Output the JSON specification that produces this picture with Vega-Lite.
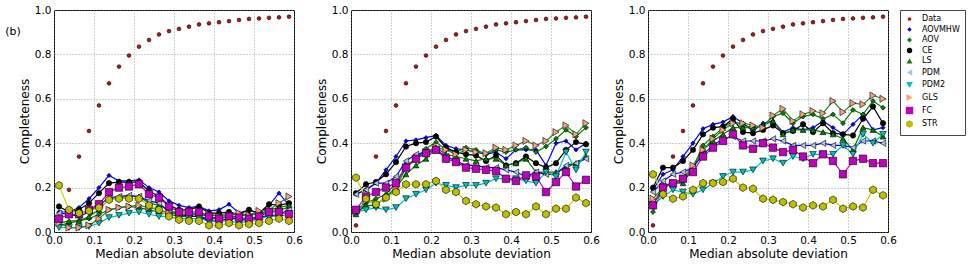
{
"$schema": "https://vega.github.io/schema/vega-lite/v6.json",
"padding": {"left": 4, "top": 4, "right": 0, "bottom": 0},
"background": "white",
"data": {"values": [
{"s":"Data","x":0.0125,"y":0.03},{"s":"Data","x":0.0375,"y":0.19},{"s":"Data","x":0.0625,"y":0.34},{"s":"Data","x":0.0875,"y":0.455},{"s":"Data","x":0.1125,"y":0.57},{"s":"Data","x":0.1375,"y":0.67},{"s":"Data","x":0.1625,"y":0.745},{"s":"Data","x":0.1875,"y":0.795},{"s":"Data","x":0.2125,"y":0.835},{"s":"Data","x":0.2375,"y":0.865},{"s":"Data","x":0.2625,"y":0.89},{"s":"Data","x":0.2875,"y":0.905},{"s":"Data","x":0.3125,"y":0.915},{"s":"Data","x":0.3375,"y":0.925},{"s":"Data","x":0.3625,"y":0.935},{"s":"Data","x":0.3875,"y":0.94},{"s":"Data","x":0.4125,"y":0.945},{"s":"Data","x":0.4375,"y":0.95},{"s":"Data","x":0.4625,"y":0.955},{"s":"Data","x":0.4875,"y":0.96},{"s":"Data","x":0.5125,"y":0.962},{"s":"Data","x":0.5375,"y":0.965},{"s":"Data","x":0.5625,"y":0.967},{"s":"Data","x":0.5875,"y":0.97},

{"p":1,"s":"AOVMHW","x":0.0125,"y":0.09},{"p":1,"s":"AOVMHW","x":0.0375,"y":0.09},{"p":1,"s":"AOVMHW","x":0.0625,"y":0.11},{"p":1,"s":"AOVMHW","x":0.0875,"y":0.15},{"p":1,"s":"AOVMHW","x":0.1125,"y":0.2},{"p":1,"s":"AOVMHW","x":0.1375,"y":0.255},{"p":1,"s":"AOVMHW","x":0.1625,"y":0.23},{"p":1,"s":"AOVMHW","x":0.1875,"y":0.23},{"p":1,"s":"AOVMHW","x":0.2125,"y":0.235},{"p":1,"s":"AOVMHW","x":0.2375,"y":0.2},{"p":1,"s":"AOVMHW","x":0.2625,"y":0.18},{"p":1,"s":"AOVMHW","x":0.2875,"y":0.14},{"p":1,"s":"AOVMHW","x":0.3125,"y":0.12},{"p":1,"s":"AOVMHW","x":0.3375,"y":0.11},{"p":1,"s":"AOVMHW","x":0.3625,"y":0.115},{"p":1,"s":"AOVMHW","x":0.3875,"y":0.095},{"p":1,"s":"AOVMHW","x":0.4125,"y":0.1},{"p":1,"s":"AOVMHW","x":0.4375,"y":0.125},{"p":1,"s":"AOVMHW","x":0.4625,"y":0.085},{"p":1,"s":"AOVMHW","x":0.4875,"y":0.1},{"p":1,"s":"AOVMHW","x":0.5125,"y":0.08},{"p":1,"s":"AOVMHW","x":0.5375,"y":0.12},{"p":1,"s":"AOVMHW","x":0.5625,"y":0.175},{"p":1,"s":"AOVMHW","x":0.5875,"y":0.12},
{"p":1,"s":"AOV","x":0.0125,"y":0.03},{"p":1,"s":"AOV","x":0.0375,"y":0.04},{"p":1,"s":"AOV","x":0.0625,"y":0.05},{"p":1,"s":"AOV","x":0.0875,"y":0.06},{"p":1,"s":"AOV","x":0.1125,"y":0.08},{"p":1,"s":"AOV","x":0.1375,"y":0.1},{"p":1,"s":"AOV","x":0.1625,"y":0.11},{"p":1,"s":"AOV","x":0.1875,"y":0.115},{"p":1,"s":"AOV","x":0.2125,"y":0.11},{"p":1,"s":"AOV","x":0.2375,"y":0.1},{"p":1,"s":"AOV","x":0.2625,"y":0.09},{"p":1,"s":"AOV","x":0.2875,"y":0.08},{"p":1,"s":"AOV","x":0.3125,"y":0.07},{"p":1,"s":"AOV","x":0.3375,"y":0.07},{"p":1,"s":"AOV","x":0.3625,"y":0.07},{"p":1,"s":"AOV","x":0.3875,"y":0.06},{"p":1,"s":"AOV","x":0.4125,"y":0.06},{"p":1,"s":"AOV","x":0.4375,"y":0.07},{"p":1,"s":"AOV","x":0.4625,"y":0.07},{"p":1,"s":"AOV","x":0.4875,"y":0.08},{"p":1,"s":"AOV","x":0.5125,"y":0.08},{"p":1,"s":"AOV","x":0.5375,"y":0.09},{"p":1,"s":"AOV","x":0.5625,"y":0.1},{"p":1,"s":"AOV","x":0.5875,"y":0.11},
{"p":1,"s":"CE","x":0.0125,"y":0.115},{"p":1,"s":"CE","x":0.0375,"y":0.09},{"p":1,"s":"CE","x":0.0625,"y":0.1},{"p":1,"s":"CE","x":0.0875,"y":0.13},{"p":1,"s":"CE","x":0.1125,"y":0.175},{"p":1,"s":"CE","x":0.1375,"y":0.22},{"p":1,"s":"CE","x":0.1625,"y":0.225},{"p":1,"s":"CE","x":0.1875,"y":0.225},{"p":1,"s":"CE","x":0.2125,"y":0.225},{"p":1,"s":"CE","x":0.2375,"y":0.185},{"p":1,"s":"CE","x":0.2625,"y":0.16},{"p":1,"s":"CE","x":0.2875,"y":0.12},{"p":1,"s":"CE","x":0.3125,"y":0.1},{"p":1,"s":"CE","x":0.3375,"y":0.1},{"p":1,"s":"CE","x":0.3625,"y":0.115},{"p":1,"s":"CE","x":0.3875,"y":0.085},{"p":1,"s":"CE","x":0.4125,"y":0.085},{"p":1,"s":"CE","x":0.4375,"y":0.09},{"p":1,"s":"CE","x":0.4625,"y":0.08},{"p":1,"s":"CE","x":0.4875,"y":0.1},{"p":1,"s":"CE","x":0.5125,"y":0.085},{"p":1,"s":"CE","x":0.5375,"y":0.125},{"p":1,"s":"CE","x":0.5625,"y":0.12},{"p":1,"s":"CE","x":0.5875,"y":0.13},
{"p":1,"s":"LS","x":0.0125,"y":0.04},{"p":1,"s":"LS","x":0.0375,"y":0.05},{"p":1,"s":"LS","x":0.0625,"y":0.05},{"p":1,"s":"LS","x":0.0875,"y":0.07},{"p":1,"s":"LS","x":0.1125,"y":0.1},{"p":1,"s":"LS","x":0.1375,"y":0.15},{"p":1,"s":"LS","x":0.1625,"y":0.155},{"p":1,"s":"LS","x":0.1875,"y":0.16},{"p":1,"s":"LS","x":0.2125,"y":0.16},{"p":1,"s":"LS","x":0.2375,"y":0.13},{"p":1,"s":"LS","x":0.2625,"y":0.12},{"p":1,"s":"LS","x":0.2875,"y":0.1},{"p":1,"s":"LS","x":0.3125,"y":0.08},{"p":1,"s":"LS","x":0.3375,"y":0.08},{"p":1,"s":"LS","x":0.3625,"y":0.08},{"p":1,"s":"LS","x":0.3875,"y":0.07},{"p":1,"s":"LS","x":0.4125,"y":0.08},{"p":1,"s":"LS","x":0.4375,"y":0.08},{"p":1,"s":"LS","x":0.4625,"y":0.08},{"p":1,"s":"LS","x":0.4875,"y":0.08},{"p":1,"s":"LS","x":0.5125,"y":0.08},{"p":1,"s":"LS","x":0.5375,"y":0.1},{"p":1,"s":"LS","x":0.5625,"y":0.11},{"p":1,"s":"LS","x":0.5875,"y":0.12},
{"p":1,"s":"PDM","x":0.0125,"y":0.085},{"p":1,"s":"PDM","x":0.0375,"y":0.08},{"p":1,"s":"PDM","x":0.0625,"y":0.07},{"p":1,"s":"PDM","x":0.0875,"y":0.09},{"p":1,"s":"PDM","x":0.1125,"y":0.12},{"p":1,"s":"PDM","x":0.1375,"y":0.155},{"p":1,"s":"PDM","x":0.1625,"y":0.16},{"p":1,"s":"PDM","x":0.1875,"y":0.165},{"p":1,"s":"PDM","x":0.2125,"y":0.16},{"p":1,"s":"PDM","x":0.2375,"y":0.14},{"p":1,"s":"PDM","x":0.2625,"y":0.13},{"p":1,"s":"PDM","x":0.2875,"y":0.09},{"p":1,"s":"PDM","x":0.3125,"y":0.08},{"p":1,"s":"PDM","x":0.3375,"y":0.07},{"p":1,"s":"PDM","x":0.3625,"y":0.07},{"p":1,"s":"PDM","x":0.3875,"y":0.05},{"p":1,"s":"PDM","x":0.4125,"y":0.05},{"p":1,"s":"PDM","x":0.4375,"y":0.06},{"p":1,"s":"PDM","x":0.4625,"y":0.06},{"p":1,"s":"PDM","x":0.4875,"y":0.05},{"p":1,"s":"PDM","x":0.5125,"y":0.07},{"p":1,"s":"PDM","x":0.5375,"y":0.07},{"p":1,"s":"PDM","x":0.5625,"y":0.08},{"p":1,"s":"PDM","x":0.5875,"y":0.1},
{"p":1,"s":"PDM2","x":0.0125,"y":0.02},{"p":1,"s":"PDM2","x":0.0375,"y":0.02},{"p":1,"s":"PDM2","x":0.0625,"y":0.02},{"p":1,"s":"PDM2","x":0.0875,"y":0.025},{"p":1,"s":"PDM2","x":0.1125,"y":0.04},{"p":1,"s":"PDM2","x":0.1375,"y":0.065},{"p":1,"s":"PDM2","x":0.1625,"y":0.075},{"p":1,"s":"PDM2","x":0.1875,"y":0.085},{"p":1,"s":"PDM2","x":0.2125,"y":0.09},{"p":1,"s":"PDM2","x":0.2375,"y":0.08},{"p":1,"s":"PDM2","x":0.2625,"y":0.07},{"p":1,"s":"PDM2","x":0.2875,"y":0.07},{"p":1,"s":"PDM2","x":0.3125,"y":0.06},{"p":1,"s":"PDM2","x":0.3375,"y":0.06},{"p":1,"s":"PDM2","x":0.3625,"y":0.06},{"p":1,"s":"PDM2","x":0.3875,"y":0.05},{"p":1,"s":"PDM2","x":0.4125,"y":0.05},{"p":1,"s":"PDM2","x":0.4375,"y":0.05},{"p":1,"s":"PDM2","x":0.4625,"y":0.04},{"p":1,"s":"PDM2","x":0.4875,"y":0.05},{"p":1,"s":"PDM2","x":0.5125,"y":0.06},{"p":1,"s":"PDM2","x":0.5375,"y":0.07},{"p":1,"s":"PDM2","x":0.5625,"y":0.07},{"p":1,"s":"PDM2","x":0.5875,"y":0.08},
{"p":1,"s":"GLS","x":0.0125,"y":0.04},{"p":1,"s":"GLS","x":0.0375,"y":0.02},{"p":1,"s":"GLS","x":0.0625,"y":0.02},{"p":1,"s":"GLS","x":0.0875,"y":0.03},{"p":1,"s":"GLS","x":0.1125,"y":0.06},{"p":1,"s":"GLS","x":0.1375,"y":0.1},{"p":1,"s":"GLS","x":0.1625,"y":0.11},{"p":1,"s":"GLS","x":0.1875,"y":0.115},{"p":1,"s":"GLS","x":0.2125,"y":0.12},{"p":1,"s":"GLS","x":0.2375,"y":0.11},{"p":1,"s":"GLS","x":0.2625,"y":0.1},{"p":1,"s":"GLS","x":0.2875,"y":0.085},{"p":1,"s":"GLS","x":0.3125,"y":0.08},{"p":1,"s":"GLS","x":0.3375,"y":0.08},{"p":1,"s":"GLS","x":0.3625,"y":0.085},{"p":1,"s":"GLS","x":0.3875,"y":0.08},{"p":1,"s":"GLS","x":0.4125,"y":0.07},{"p":1,"s":"GLS","x":0.4375,"y":0.075},{"p":1,"s":"GLS","x":0.4625,"y":0.085},{"p":1,"s":"GLS","x":0.4875,"y":0.075},{"p":1,"s":"GLS","x":0.5125,"y":0.095},{"p":1,"s":"GLS","x":0.5375,"y":0.1},{"p":1,"s":"GLS","x":0.5625,"y":0.13},{"p":1,"s":"GLS","x":0.5875,"y":0.16},
{"p":1,"s":"FC","x":0.0125,"y":0.06},{"p":1,"s":"FC","x":0.0375,"y":0.08},{"p":1,"s":"FC","x":0.0625,"y":0.08},{"p":1,"s":"FC","x":0.0875,"y":0.1},{"p":1,"s":"FC","x":0.1125,"y":0.125},{"p":1,"s":"FC","x":0.1375,"y":0.18},{"p":1,"s":"FC","x":0.1625,"y":0.2},{"p":1,"s":"FC","x":0.1875,"y":0.205},{"p":1,"s":"FC","x":0.2125,"y":0.215},{"p":1,"s":"FC","x":0.2375,"y":0.17},{"p":1,"s":"FC","x":0.2625,"y":0.155},{"p":1,"s":"FC","x":0.2875,"y":0.115},{"p":1,"s":"FC","x":0.3125,"y":0.09},{"p":1,"s":"FC","x":0.3375,"y":0.09},{"p":1,"s":"FC","x":0.3625,"y":0.09},{"p":1,"s":"FC","x":0.3875,"y":0.07},{"p":1,"s":"FC","x":0.4125,"y":0.06},{"p":1,"s":"FC","x":0.4375,"y":0.07},{"p":1,"s":"FC","x":0.4625,"y":0.065},{"p":1,"s":"FC","x":0.4875,"y":0.06},{"p":1,"s":"FC","x":0.5125,"y":0.07},{"p":1,"s":"FC","x":0.5375,"y":0.09},{"p":1,"s":"FC","x":0.5625,"y":0.09},{"p":1,"s":"FC","x":0.5875,"y":0.08},
{"p":1,"s":"STR","x":0.0125,"y":0.21},{"p":1,"s":"STR","x":0.0375,"y":0.1},{"p":1,"s":"STR","x":0.0625,"y":0.085},{"p":1,"s":"STR","x":0.0875,"y":0.095},{"p":1,"s":"STR","x":0.1125,"y":0.11},{"p":1,"s":"STR","x":0.1375,"y":0.145},{"p":1,"s":"STR","x":0.1625,"y":0.15},{"p":1,"s":"STR","x":0.1875,"y":0.15},{"p":1,"s":"STR","x":0.2125,"y":0.15},{"p":1,"s":"STR","x":0.2375,"y":0.12},{"p":1,"s":"STR","x":0.2625,"y":0.1},{"p":1,"s":"STR","x":0.2875,"y":0.07},{"p":1,"s":"STR","x":0.3125,"y":0.055},{"p":1,"s":"STR","x":0.3375,"y":0.05},{"p":1,"s":"STR","x":0.3625,"y":0.05},{"p":1,"s":"STR","x":0.3875,"y":0.03},{"p":1,"s":"STR","x":0.4125,"y":0.03},{"p":1,"s":"STR","x":0.4375,"y":0.04},{"p":1,"s":"STR","x":0.4625,"y":0.03},{"p":1,"s":"STR","x":0.4875,"y":0.035},{"p":1,"s":"STR","x":0.5125,"y":0.04},{"p":1,"s":"STR","x":0.5375,"y":0.05},{"p":1,"s":"STR","x":0.5625,"y":0.06},{"p":1,"s":"STR","x":0.5875,"y":0.05},

{"p":2,"s":"AOVMHW","x":0.0125,"y":0.17},{"p":2,"s":"AOVMHW","x":0.0375,"y":0.19},{"p":2,"s":"AOVMHW","x":0.0625,"y":0.22},{"p":2,"s":"AOVMHW","x":0.0875,"y":0.28},{"p":2,"s":"AOVMHW","x":0.1125,"y":0.34},{"p":2,"s":"AOVMHW","x":0.1375,"y":0.41},{"p":2,"s":"AOVMHW","x":0.1625,"y":0.415},{"p":2,"s":"AOVMHW","x":0.1875,"y":0.425},{"p":2,"s":"AOVMHW","x":0.2125,"y":0.435},{"p":2,"s":"AOVMHW","x":0.2375,"y":0.39},{"p":2,"s":"AOVMHW","x":0.2625,"y":0.375},{"p":2,"s":"AOVMHW","x":0.2875,"y":0.37},{"p":2,"s":"AOVMHW","x":0.3125,"y":0.36},{"p":2,"s":"AOVMHW","x":0.3375,"y":0.35},{"p":2,"s":"AOVMHW","x":0.3625,"y":0.36},{"p":2,"s":"AOVMHW","x":0.3875,"y":0.33},{"p":2,"s":"AOVMHW","x":0.4125,"y":0.37},{"p":2,"s":"AOVMHW","x":0.4375,"y":0.37},{"p":2,"s":"AOVMHW","x":0.4625,"y":0.37},{"p":2,"s":"AOVMHW","x":0.4875,"y":0.3},{"p":2,"s":"AOVMHW","x":0.5125,"y":0.4},{"p":2,"s":"AOVMHW","x":0.5375,"y":0.41},{"p":2,"s":"AOVMHW","x":0.5625,"y":0.37},{"p":2,"s":"AOVMHW","x":0.5875,"y":0.4},
{"p":2,"s":"AOV","x":0.0125,"y":0.08},{"p":2,"s":"AOV","x":0.0375,"y":0.13},{"p":2,"s":"AOV","x":0.0625,"y":0.15},{"p":2,"s":"AOV","x":0.0875,"y":0.17},{"p":2,"s":"AOV","x":0.1125,"y":0.22},{"p":2,"s":"AOV","x":0.1375,"y":0.3},{"p":2,"s":"AOV","x":0.1625,"y":0.33},{"p":2,"s":"AOV","x":0.1875,"y":0.375},{"p":2,"s":"AOV","x":0.2125,"y":0.405},{"p":2,"s":"AOV","x":0.2375,"y":0.37},{"p":2,"s":"AOV","x":0.2625,"y":0.36},{"p":2,"s":"AOV","x":0.2875,"y":0.38},{"p":2,"s":"AOV","x":0.3125,"y":0.37},{"p":2,"s":"AOV","x":0.3375,"y":0.35},{"p":2,"s":"AOV","x":0.3625,"y":0.37},{"p":2,"s":"AOV","x":0.3875,"y":0.36},{"p":2,"s":"AOV","x":0.4125,"y":0.37},{"p":2,"s":"AOV","x":0.4375,"y":0.38},{"p":2,"s":"AOV","x":0.4625,"y":0.36},{"p":2,"s":"AOV","x":0.4875,"y":0.385},{"p":2,"s":"AOV","x":0.5125,"y":0.42},{"p":2,"s":"AOV","x":0.5375,"y":0.46},{"p":2,"s":"AOV","x":0.5625,"y":0.43},{"p":2,"s":"AOV","x":0.5875,"y":0.47},
{"p":2,"s":"CE","x":0.0125,"y":0.175},{"p":2,"s":"CE","x":0.0375,"y":0.215},{"p":2,"s":"CE","x":0.0625,"y":0.225},{"p":2,"s":"CE","x":0.0875,"y":0.26},{"p":2,"s":"CE","x":0.1125,"y":0.315},{"p":2,"s":"CE","x":0.1375,"y":0.385},{"p":2,"s":"CE","x":0.1625,"y":0.4},{"p":2,"s":"CE","x":0.1875,"y":0.405},{"p":2,"s":"CE","x":0.2125,"y":0.43},{"p":2,"s":"CE","x":0.2375,"y":0.38},{"p":2,"s":"CE","x":0.2625,"y":0.36},{"p":2,"s":"CE","x":0.2875,"y":0.35},{"p":2,"s":"CE","x":0.3125,"y":0.345},{"p":2,"s":"CE","x":0.3375,"y":0.32},{"p":2,"s":"CE","x":0.3625,"y":0.345},{"p":2,"s":"CE","x":0.3875,"y":0.3},{"p":2,"s":"CE","x":0.4125,"y":0.31},{"p":2,"s":"CE","x":0.4375,"y":0.34},{"p":2,"s":"CE","x":0.4625,"y":0.31},{"p":2,"s":"CE","x":0.4875,"y":0.29},{"p":2,"s":"CE","x":0.5125,"y":0.31},{"p":2,"s":"CE","x":0.5375,"y":0.37},{"p":2,"s":"CE","x":0.5625,"y":0.405},{"p":2,"s":"CE","x":0.5875,"y":0.395},
{"p":2,"s":"LS","x":0.0125,"y":0.08},{"p":2,"s":"LS","x":0.0375,"y":0.12},{"p":2,"s":"LS","x":0.0625,"y":0.12},{"p":2,"s":"LS","x":0.0875,"y":0.16},{"p":2,"s":"LS","x":0.1125,"y":0.2},{"p":2,"s":"LS","x":0.1375,"y":0.26},{"p":2,"s":"LS","x":0.1625,"y":0.3},{"p":2,"s":"LS","x":0.1875,"y":0.33},{"p":2,"s":"LS","x":0.2125,"y":0.38},{"p":2,"s":"LS","x":0.2375,"y":0.35},{"p":2,"s":"LS","x":0.2625,"y":0.34},{"p":2,"s":"LS","x":0.2875,"y":0.33},{"p":2,"s":"LS","x":0.3125,"y":0.32},{"p":2,"s":"LS","x":0.3375,"y":0.33},{"p":2,"s":"LS","x":0.3625,"y":0.33},{"p":2,"s":"LS","x":0.3875,"y":0.3},{"p":2,"s":"LS","x":0.4125,"y":0.31},{"p":2,"s":"LS","x":0.4375,"y":0.33},{"p":2,"s":"LS","x":0.4625,"y":0.27},{"p":2,"s":"LS","x":0.4875,"y":0.27},{"p":2,"s":"LS","x":0.5125,"y":0.27},{"p":2,"s":"LS","x":0.5375,"y":0.29},{"p":2,"s":"LS","x":0.5625,"y":0.31},{"p":2,"s":"LS","x":0.5875,"y":0.34},
{"p":2,"s":"PDM","x":0.0125,"y":0.17},{"p":2,"s":"PDM","x":0.0375,"y":0.19},{"p":2,"s":"PDM","x":0.0625,"y":0.22},{"p":2,"s":"PDM","x":0.0875,"y":0.22},{"p":2,"s":"PDM","x":0.1125,"y":0.25},{"p":2,"s":"PDM","x":0.1375,"y":0.32},{"p":2,"s":"PDM","x":0.1625,"y":0.35},{"p":2,"s":"PDM","x":0.1875,"y":0.36},{"p":2,"s":"PDM","x":0.2125,"y":0.37},{"p":2,"s":"PDM","x":0.2375,"y":0.34},{"p":2,"s":"PDM","x":0.2625,"y":0.32},{"p":2,"s":"PDM","x":0.2875,"y":0.3},{"p":2,"s":"PDM","x":0.3125,"y":0.3},{"p":2,"s":"PDM","x":0.3375,"y":0.29},{"p":2,"s":"PDM","x":0.3625,"y":0.29},{"p":2,"s":"PDM","x":0.3875,"y":0.28},{"p":2,"s":"PDM","x":0.4125,"y":0.27},{"p":2,"s":"PDM","x":0.4375,"y":0.25},{"p":2,"s":"PDM","x":0.4625,"y":0.27},{"p":2,"s":"PDM","x":0.4875,"y":0.26},{"p":2,"s":"PDM","x":0.5125,"y":0.26},{"p":2,"s":"PDM","x":0.5375,"y":0.3},{"p":2,"s":"PDM","x":0.5625,"y":0.31},{"p":2,"s":"PDM","x":0.5875,"y":0.33},
{"p":2,"s":"PDM2","x":0.0125,"y":0.09},{"p":2,"s":"PDM2","x":0.0375,"y":0.1},{"p":2,"s":"PDM2","x":0.0625,"y":0.11},{"p":2,"s":"PDM2","x":0.0875,"y":0.1},{"p":2,"s":"PDM2","x":0.1125,"y":0.11},{"p":2,"s":"PDM2","x":0.1375,"y":0.15},{"p":2,"s":"PDM2","x":0.1625,"y":0.17},{"p":2,"s":"PDM2","x":0.1875,"y":0.19},{"p":2,"s":"PDM2","x":0.2125,"y":0.22},{"p":2,"s":"PDM2","x":0.2375,"y":0.21},{"p":2,"s":"PDM2","x":0.2625,"y":0.2},{"p":2,"s":"PDM2","x":0.2875,"y":0.21},{"p":2,"s":"PDM2","x":0.3125,"y":0.21},{"p":2,"s":"PDM2","x":0.3375,"y":0.22},{"p":2,"s":"PDM2","x":0.3625,"y":0.24},{"p":2,"s":"PDM2","x":0.3875,"y":0.24},{"p":2,"s":"PDM2","x":0.4125,"y":0.24},{"p":2,"s":"PDM2","x":0.4375,"y":0.23},{"p":2,"s":"PDM2","x":0.4625,"y":0.22},{"p":2,"s":"PDM2","x":0.4875,"y":0.27},{"p":2,"s":"PDM2","x":0.5125,"y":0.25},{"p":2,"s":"PDM2","x":0.5375,"y":0.36},{"p":2,"s":"PDM2","x":0.5625,"y":0.28},{"p":2,"s":"PDM2","x":0.5875,"y":0.36},
{"p":2,"s":"GLS","x":0.0125,"y":0.09},{"p":2,"s":"GLS","x":0.0375,"y":0.14},{"p":2,"s":"GLS","x":0.0625,"y":0.13},{"p":2,"s":"GLS","x":0.0875,"y":0.15},{"p":2,"s":"GLS","x":0.1125,"y":0.2},{"p":2,"s":"GLS","x":0.1375,"y":0.29},{"p":2,"s":"GLS","x":0.1625,"y":0.33},{"p":2,"s":"GLS","x":0.1875,"y":0.36},{"p":2,"s":"GLS","x":0.2125,"y":0.38},{"p":2,"s":"GLS","x":0.2375,"y":0.37},{"p":2,"s":"GLS","x":0.2625,"y":0.35},{"p":2,"s":"GLS","x":0.2875,"y":0.37},{"p":2,"s":"GLS","x":0.3125,"y":0.36},{"p":2,"s":"GLS","x":0.3375,"y":0.355},{"p":2,"s":"GLS","x":0.3625,"y":0.38},{"p":2,"s":"GLS","x":0.3875,"y":0.37},{"p":2,"s":"GLS","x":0.4125,"y":0.39},{"p":2,"s":"GLS","x":0.4375,"y":0.41},{"p":2,"s":"GLS","x":0.4625,"y":0.39},{"p":2,"s":"GLS","x":0.4875,"y":0.41},{"p":2,"s":"GLS","x":0.5125,"y":0.45},{"p":2,"s":"GLS","x":0.5375,"y":0.48},{"p":2,"s":"GLS","x":0.5625,"y":0.44},{"p":2,"s":"GLS","x":0.5875,"y":0.49},
{"p":2,"s":"FC","x":0.0125,"y":0.1},{"p":2,"s":"FC","x":0.0375,"y":0.16},{"p":2,"s":"FC","x":0.0625,"y":0.18},{"p":2,"s":"FC","x":0.0875,"y":0.2},{"p":2,"s":"FC","x":0.1125,"y":0.22},{"p":2,"s":"FC","x":0.1375,"y":0.29},{"p":2,"s":"FC","x":0.1625,"y":0.33},{"p":2,"s":"FC","x":0.1875,"y":0.355},{"p":2,"s":"FC","x":0.2125,"y":0.37},{"p":2,"s":"FC","x":0.2375,"y":0.33},{"p":2,"s":"FC","x":0.2625,"y":0.315},{"p":2,"s":"FC","x":0.2875,"y":0.29},{"p":2,"s":"FC","x":0.3125,"y":0.285},{"p":2,"s":"FC","x":0.3375,"y":0.28},{"p":2,"s":"FC","x":0.3625,"y":0.275},{"p":2,"s":"FC","x":0.3875,"y":0.24},{"p":2,"s":"FC","x":0.4125,"y":0.23},{"p":2,"s":"FC","x":0.4375,"y":0.255},{"p":2,"s":"FC","x":0.4625,"y":0.25},{"p":2,"s":"FC","x":0.4875,"y":0.18},{"p":2,"s":"FC","x":0.5125,"y":0.225},{"p":2,"s":"FC","x":0.5375,"y":0.27},{"p":2,"s":"FC","x":0.5625,"y":0.205},{"p":2,"s":"FC","x":0.5875,"y":0.235},
{"p":2,"s":"STR","x":0.0125,"y":0.245},{"p":2,"s":"STR","x":0.0375,"y":0.15},{"p":2,"s":"STR","x":0.0625,"y":0.125},{"p":2,"s":"STR","x":0.0875,"y":0.155},{"p":2,"s":"STR","x":0.1125,"y":0.18},{"p":2,"s":"STR","x":0.1375,"y":0.215},{"p":2,"s":"STR","x":0.1625,"y":0.215},{"p":2,"s":"STR","x":0.1875,"y":0.215},{"p":2,"s":"STR","x":0.2125,"y":0.23},{"p":2,"s":"STR","x":0.2375,"y":0.19},{"p":2,"s":"STR","x":0.2625,"y":0.18},{"p":2,"s":"STR","x":0.2875,"y":0.14},{"p":2,"s":"STR","x":0.3125,"y":0.125},{"p":2,"s":"STR","x":0.3375,"y":0.115},{"p":2,"s":"STR","x":0.3625,"y":0.11},{"p":2,"s":"STR","x":0.3875,"y":0.08},{"p":2,"s":"STR","x":0.4125,"y":0.09},{"p":2,"s":"STR","x":0.4375,"y":0.08},{"p":2,"s":"STR","x":0.4625,"y":0.115},{"p":2,"s":"STR","x":0.4875,"y":0.08},{"p":2,"s":"STR","x":0.5125,"y":0.105},{"p":2,"s":"STR","x":0.5375,"y":0.105},{"p":2,"s":"STR","x":0.5625,"y":0.155},{"p":2,"s":"STR","x":0.5875,"y":0.13},

{"p":3,"s":"AOVMHW","x":0.0125,"y":0.19},{"p":3,"s":"AOVMHW","x":0.0375,"y":0.26},{"p":3,"s":"AOVMHW","x":0.0625,"y":0.28},{"p":3,"s":"AOVMHW","x":0.0875,"y":0.34},{"p":3,"s":"AOVMHW","x":0.1125,"y":0.4},{"p":3,"s":"AOVMHW","x":0.1375,"y":0.465},{"p":3,"s":"AOVMHW","x":0.1625,"y":0.485},{"p":3,"s":"AOVMHW","x":0.1875,"y":0.495},{"p":3,"s":"AOVMHW","x":0.2125,"y":0.52},{"p":3,"s":"AOVMHW","x":0.2375,"y":0.49},{"p":3,"s":"AOVMHW","x":0.2625,"y":0.455},{"p":3,"s":"AOVMHW","x":0.2875,"y":0.49},{"p":3,"s":"AOVMHW","x":0.3125,"y":0.5},{"p":3,"s":"AOVMHW","x":0.3375,"y":0.45},{"p":3,"s":"AOVMHW","x":0.3625,"y":0.47},{"p":3,"s":"AOVMHW","x":0.3875,"y":0.46},{"p":3,"s":"AOVMHW","x":0.4125,"y":0.47},{"p":3,"s":"AOVMHW","x":0.4375,"y":0.5},{"p":3,"s":"AOVMHW","x":0.4625,"y":0.47},{"p":3,"s":"AOVMHW","x":0.4875,"y":0.44},{"p":3,"s":"AOVMHW","x":0.5125,"y":0.485},{"p":3,"s":"AOVMHW","x":0.5375,"y":0.53},{"p":3,"s":"AOVMHW","x":0.5625,"y":0.46},{"p":3,"s":"AOVMHW","x":0.5875,"y":0.47},
{"p":3,"s":"AOV","x":0.0125,"y":0.09},{"p":3,"s":"AOV","x":0.0375,"y":0.2},{"p":3,"s":"AOV","x":0.0625,"y":0.22},{"p":3,"s":"AOV","x":0.0875,"y":0.23},{"p":3,"s":"AOV","x":0.1125,"y":0.29},{"p":3,"s":"AOV","x":0.1375,"y":0.39},{"p":3,"s":"AOV","x":0.1625,"y":0.43},{"p":3,"s":"AOV","x":0.1875,"y":0.47},{"p":3,"s":"AOV","x":0.2125,"y":0.5},{"p":3,"s":"AOV","x":0.2375,"y":0.48},{"p":3,"s":"AOV","x":0.2625,"y":0.47},{"p":3,"s":"AOV","x":0.2875,"y":0.48},{"p":3,"s":"AOV","x":0.3125,"y":0.52},{"p":3,"s":"AOV","x":0.3375,"y":0.535},{"p":3,"s":"AOV","x":0.3625,"y":0.49},{"p":3,"s":"AOV","x":0.3875,"y":0.52},{"p":3,"s":"AOV","x":0.4125,"y":0.53},{"p":3,"s":"AOV","x":0.4375,"y":0.51},{"p":3,"s":"AOV","x":0.4625,"y":0.53},{"p":3,"s":"AOV","x":0.4875,"y":0.49},{"p":3,"s":"AOV","x":0.5125,"y":0.55},{"p":3,"s":"AOV","x":0.5375,"y":0.53},{"p":3,"s":"AOV","x":0.5625,"y":0.59},{"p":3,"s":"AOV","x":0.5875,"y":0.56},
{"p":3,"s":"CE","x":0.0125,"y":0.2},{"p":3,"s":"CE","x":0.0375,"y":0.29},{"p":3,"s":"CE","x":0.0625,"y":0.29},{"p":3,"s":"CE","x":0.0875,"y":0.32},{"p":3,"s":"CE","x":0.1125,"y":0.37},{"p":3,"s":"CE","x":0.1375,"y":0.44},{"p":3,"s":"CE","x":0.1625,"y":0.47},{"p":3,"s":"CE","x":0.1875,"y":0.475},{"p":3,"s":"CE","x":0.2125,"y":0.51},{"p":3,"s":"CE","x":0.2375,"y":0.45},{"p":3,"s":"CE","x":0.2625,"y":0.445},{"p":3,"s":"CE","x":0.2875,"y":0.46},{"p":3,"s":"CE","x":0.3125,"y":0.48},{"p":3,"s":"CE","x":0.3375,"y":0.445},{"p":3,"s":"CE","x":0.3625,"y":0.455},{"p":3,"s":"CE","x":0.3875,"y":0.485},{"p":3,"s":"CE","x":0.4125,"y":0.45},{"p":3,"s":"CE","x":0.4375,"y":0.49},{"p":3,"s":"CE","x":0.4625,"y":0.445},{"p":3,"s":"CE","x":0.4875,"y":0.44},{"p":3,"s":"CE","x":0.5125,"y":0.435},{"p":3,"s":"CE","x":0.5375,"y":0.51},{"p":3,"s":"CE","x":0.5625,"y":0.565},{"p":3,"s":"CE","x":0.5875,"y":0.49},
{"p":3,"s":"LS","x":0.0125,"y":0.12},{"p":3,"s":"LS","x":0.0375,"y":0.21},{"p":3,"s":"LS","x":0.0625,"y":0.22},{"p":3,"s":"LS","x":0.0875,"y":0.22},{"p":3,"s":"LS","x":0.1125,"y":0.29},{"p":3,"s":"LS","x":0.1375,"y":0.37},{"p":3,"s":"LS","x":0.1625,"y":0.41},{"p":3,"s":"LS","x":0.1875,"y":0.44},{"p":3,"s":"LS","x":0.2125,"y":0.47},{"p":3,"s":"LS","x":0.2375,"y":0.47},{"p":3,"s":"LS","x":0.2625,"y":0.47},{"p":3,"s":"LS","x":0.2875,"y":0.48},{"p":3,"s":"LS","x":0.3125,"y":0.5},{"p":3,"s":"LS","x":0.3375,"y":0.44},{"p":3,"s":"LS","x":0.3625,"y":0.46},{"p":3,"s":"LS","x":0.3875,"y":0.46},{"p":3,"s":"LS","x":0.4125,"y":0.46},{"p":3,"s":"LS","x":0.4375,"y":0.45},{"p":3,"s":"LS","x":0.4625,"y":0.44},{"p":3,"s":"LS","x":0.4875,"y":0.42},{"p":3,"s":"LS","x":0.5125,"y":0.37},{"p":3,"s":"LS","x":0.5375,"y":0.47},{"p":3,"s":"LS","x":0.5625,"y":0.46},{"p":3,"s":"LS","x":0.5875,"y":0.43},
{"p":3,"s":"PDM","x":0.0125,"y":0.18},{"p":3,"s":"PDM","x":0.0375,"y":0.23},{"p":3,"s":"PDM","x":0.0625,"y":0.26},{"p":3,"s":"PDM","x":0.0875,"y":0.27},{"p":3,"s":"PDM","x":0.1125,"y":0.29},{"p":3,"s":"PDM","x":0.1375,"y":0.35},{"p":3,"s":"PDM","x":0.1625,"y":0.39},{"p":3,"s":"PDM","x":0.1875,"y":0.42},{"p":3,"s":"PDM","x":0.2125,"y":0.43},{"p":3,"s":"PDM","x":0.2375,"y":0.41},{"p":3,"s":"PDM","x":0.2625,"y":0.41},{"p":3,"s":"PDM","x":0.2875,"y":0.41},{"p":3,"s":"PDM","x":0.3125,"y":0.42},{"p":3,"s":"PDM","x":0.3375,"y":0.41},{"p":3,"s":"PDM","x":0.3625,"y":0.39},{"p":3,"s":"PDM","x":0.3875,"y":0.39},{"p":3,"s":"PDM","x":0.4125,"y":0.39},{"p":3,"s":"PDM","x":0.4375,"y":0.4},{"p":3,"s":"PDM","x":0.4625,"y":0.39},{"p":3,"s":"PDM","x":0.4875,"y":0.39},{"p":3,"s":"PDM","x":0.5125,"y":0.38},{"p":3,"s":"PDM","x":0.5375,"y":0.41},{"p":3,"s":"PDM","x":0.5625,"y":0.41},{"p":3,"s":"PDM","x":0.5875,"y":0.4},
{"p":3,"s":"PDM2","x":0.0125,"y":0.12},{"p":3,"s":"PDM2","x":0.0375,"y":0.16},{"p":3,"s":"PDM2","x":0.0625,"y":0.19},{"p":3,"s":"PDM2","x":0.0875,"y":0.18},{"p":3,"s":"PDM2","x":0.1125,"y":0.17},{"p":3,"s":"PDM2","x":0.1375,"y":0.19},{"p":3,"s":"PDM2","x":0.1625,"y":0.22},{"p":3,"s":"PDM2","x":0.1875,"y":0.25},{"p":3,"s":"PDM2","x":0.2125,"y":0.27},{"p":3,"s":"PDM2","x":0.2375,"y":0.27},{"p":3,"s":"PDM2","x":0.2625,"y":0.28},{"p":3,"s":"PDM2","x":0.2875,"y":0.32},{"p":3,"s":"PDM2","x":0.3125,"y":0.33},{"p":3,"s":"PDM2","x":0.3375,"y":0.31},{"p":3,"s":"PDM2","x":0.3625,"y":0.34},{"p":3,"s":"PDM2","x":0.3875,"y":0.33},{"p":3,"s":"PDM2","x":0.4125,"y":0.35},{"p":3,"s":"PDM2","x":0.4375,"y":0.35},{"p":3,"s":"PDM2","x":0.4625,"y":0.35},{"p":3,"s":"PDM2","x":0.4875,"y":0.39},{"p":3,"s":"PDM2","x":0.5125,"y":0.35},{"p":3,"s":"PDM2","x":0.5375,"y":0.44},{"p":3,"s":"PDM2","x":0.5625,"y":0.4},{"p":3,"s":"PDM2","x":0.5875,"y":0.44},
{"p":3,"s":"GLS","x":0.0125,"y":0.15},{"p":3,"s":"GLS","x":0.0375,"y":0.2},{"p":3,"s":"GLS","x":0.0625,"y":0.22},{"p":3,"s":"GLS","x":0.0875,"y":0.24},{"p":3,"s":"GLS","x":0.1125,"y":0.3},{"p":3,"s":"GLS","x":0.1375,"y":0.37},{"p":3,"s":"GLS","x":0.1625,"y":0.42},{"p":3,"s":"GLS","x":0.1875,"y":0.46},{"p":3,"s":"GLS","x":0.2125,"y":0.49},{"p":3,"s":"GLS","x":0.2375,"y":0.49},{"p":3,"s":"GLS","x":0.2625,"y":0.48},{"p":3,"s":"GLS","x":0.2875,"y":0.47},{"p":3,"s":"GLS","x":0.3125,"y":0.525},{"p":3,"s":"GLS","x":0.3375,"y":0.555},{"p":3,"s":"GLS","x":0.3625,"y":0.5},{"p":3,"s":"GLS","x":0.3875,"y":0.53},{"p":3,"s":"GLS","x":0.4125,"y":0.545},{"p":3,"s":"GLS","x":0.4375,"y":0.535},{"p":3,"s":"GLS","x":0.4625,"y":0.59},{"p":3,"s":"GLS","x":0.4875,"y":0.54},{"p":3,"s":"GLS","x":0.5125,"y":0.58},{"p":3,"s":"GLS","x":0.5375,"y":0.575},{"p":3,"s":"GLS","x":0.5625,"y":0.615},{"p":3,"s":"GLS","x":0.5875,"y":0.6},
{"p":3,"s":"FC","x":0.0125,"y":0.12},{"p":3,"s":"FC","x":0.0375,"y":0.2},{"p":3,"s":"FC","x":0.0625,"y":0.22},{"p":3,"s":"FC","x":0.0875,"y":0.24},{"p":3,"s":"FC","x":0.1125,"y":0.27},{"p":3,"s":"FC","x":0.1375,"y":0.34},{"p":3,"s":"FC","x":0.1625,"y":0.38},{"p":3,"s":"FC","x":0.1875,"y":0.41},{"p":3,"s":"FC","x":0.2125,"y":0.44},{"p":3,"s":"FC","x":0.2375,"y":0.39},{"p":3,"s":"FC","x":0.2625,"y":0.375},{"p":3,"s":"FC","x":0.2875,"y":0.4},{"p":3,"s":"FC","x":0.3125,"y":0.38},{"p":3,"s":"FC","x":0.3375,"y":0.36},{"p":3,"s":"FC","x":0.3625,"y":0.37},{"p":3,"s":"FC","x":0.3875,"y":0.34},{"p":3,"s":"FC","x":0.4125,"y":0.31},{"p":3,"s":"FC","x":0.4375,"y":0.35},{"p":3,"s":"FC","x":0.4625,"y":0.32},{"p":3,"s":"FC","x":0.4875,"y":0.26},{"p":3,"s":"FC","x":0.5125,"y":0.32},{"p":3,"s":"FC","x":0.5375,"y":0.33},{"p":3,"s":"FC","x":0.5625,"y":0.31},{"p":3,"s":"FC","x":0.5875,"y":0.31},
{"p":3,"s":"STR","x":0.0125,"y":0.26},{"p":3,"s":"STR","x":0.0375,"y":0.17},{"p":3,"s":"STR","x":0.0625,"y":0.15},{"p":3,"s":"STR","x":0.0875,"y":0.16},{"p":3,"s":"STR","x":0.1125,"y":0.19},{"p":3,"s":"STR","x":0.1375,"y":0.22},{"p":3,"s":"STR","x":0.1625,"y":0.22},{"p":3,"s":"STR","x":0.1875,"y":0.225},{"p":3,"s":"STR","x":0.2125,"y":0.24},{"p":3,"s":"STR","x":0.2375,"y":0.2},{"p":3,"s":"STR","x":0.2625,"y":0.195},{"p":3,"s":"STR","x":0.2875,"y":0.15},{"p":3,"s":"STR","x":0.3125,"y":0.145},{"p":3,"s":"STR","x":0.3375,"y":0.135},{"p":3,"s":"STR","x":0.3625,"y":0.125},{"p":3,"s":"STR","x":0.3875,"y":0.11},{"p":3,"s":"STR","x":0.4125,"y":0.12},{"p":3,"s":"STR","x":0.4375,"y":0.115},{"p":3,"s":"STR","x":0.4625,"y":0.145},{"p":3,"s":"STR","x":0.4875,"y":0.105},{"p":3,"s":"STR","x":0.5125,"y":0.115},{"p":3,"s":"STR","x":0.5375,"y":0.11},{"p":3,"s":"STR","x":0.5625,"y":0.19},{"p":3,"s":"STR","x":0.5875,"y":0.165}
]},
"spacing": 57,
"bounds": "flush",
"resolve": {"scale": {"fill": "shared", "shape": "shared", "size": "shared", "stroke": "shared"}},
"hconcat": [
{
 "width": 240, "height": 222,
 "layer": [
  {"transform": [{"filter": "datum.p == 1"}],
   "mark": {"type": "line", "strokeWidth": 1.2},
   "encoding": {
    "x": {"field": "x", "type": "quantitative", "scale": {"domain": [0, 0.6], "nice": false, "zero": false}, "axis": {"values": [0,0.1,0.2,0.3,0.4,0.5,0.6], "labelOverlap": false, "format": ".1f", "title": "Median absolute deviation"}},
    "y": {"field": "y", "type": "quantitative", "scale": {"domain": [0, 1], "nice": false}, "axis": {"values": [0,0.2,0.4,0.6,0.8,1.0], "labelOverlap": false, "format": ".1f", "title": "Completeness"}},
    "stroke": {"field": "s", "type": "nominal", "scale": {"domain": ["AOVMHW","AOV","CE","LS","PDM","PDM2","GLS","FC","STR"], "range": ["#0000ff","#008000","#000000","#008000","#0000ff","#00bfbf","#2e8b2e","#bf00bf","#cccc00"]}, "legend": null}
   }},
  {"transform": [{"filter": "datum.s == 'Data' || datum.p == 1"}],
   "mark": {"type": "point", "filled": true, "stroke": "black", "strokeWidth": 0.6, "opacity": 1},
   "encoding": {
    "x": {"field": "x", "type": "quantitative", "scale": {"domain": [0, 0.6], "nice": false, "zero": false}, "axis": {"values": [0,0.1,0.2,0.3,0.4,0.5,0.6], "labelOverlap": false, "format": ".1f", "title": "Median absolute deviation"}},
    "y": {"field": "y", "type": "quantitative", "scale": {"domain": [0, 1], "nice": false}, "axis": {"values": [0,0.2,0.4,0.6,0.8,1.0], "labelOverlap": false, "format": ".1f", "title": "Completeness"}},
    "fill": {"field": "s", "type": "nominal", "scale": {"domain": ["Data","AOVMHW","AOV","CE","LS","PDM","PDM2","GLS","FC","STR"], "range": ["#c0141c","#0000ff","#008000","#000000","#008000","#a9c6d8","#00bfbf","#f5a37f","#bf00bf","#bfbf00"]}, "legend": {"title": null}},
    "shape": {"field": "s", "type": "nominal", "scale": {"domain": ["Data","AOVMHW","AOV","CE","LS","PDM","PDM2","GLS","FC","STR"], "range": ["circle","diamond","diamond","circle","triangle-up","triangle-left","triangle-down","triangle-right","square","M0,-1L0.866,-0.5L0.866,0.5L0,1L-0.866,0.5L-0.866,-0.5Z"]}, "legend": {"title": null}},
    "size": {"field": "s", "type": "nominal", "scale": {"domain": ["Data","AOVMHW","AOV","CE","LS","PDM","PDM2","GLS","FC","STR"], "range": [14,60,60,55,55,55,55,55,55,55]}, "legend": {"title": null}}
   }},
  {"data": {"values": [{"t": "(b)"}]},
   "mark": {"type": "text", "fontSize": 11, "align": "center", "baseline": "middle"},
   "encoding": {
    "x": {"datum": -0.1025, "type": "quantitative", "scale": {"domain": [0, 0.6], "nice": false, "zero": false}, "axis": {"values": [0,0.1,0.2,0.3,0.4,0.5,0.6], "labelOverlap": false, "format": ".1f", "title": "Median absolute deviation"}},
    "y": {"datum": 0.9, "type": "quantitative", "scale": {"domain": [0, 1], "nice": false}, "axis": {"values": [0,0.2,0.4,0.6,0.8,1.0], "labelOverlap": false, "format": ".1f", "title": "Completeness"}},
    "text": {"field": "t", "type": "nominal"}
   }}
 ]
},
{
 "width": 240, "height": 222,
 "layer": [
  {"transform": [{"filter": "datum.p == 2"}],
   "mark": {"type": "line", "strokeWidth": 1.2},
   "encoding": {
    "x": {"field": "x", "type": "quantitative", "scale": {"domain": [0, 0.6], "nice": false, "zero": false}, "axis": {"values": [0,0.1,0.2,0.3,0.4,0.5,0.6], "labelOverlap": false, "format": ".1f", "title": "Median absolute deviation"}},
    "y": {"field": "y", "type": "quantitative", "scale": {"domain": [0, 1], "nice": false}, "axis": {"values": [0,0.2,0.4,0.6,0.8,1.0], "labelOverlap": false, "format": ".1f", "title": "Completeness"}},
    "stroke": {"field": "s", "type": "nominal", "scale": {"domain": ["AOVMHW","AOV","CE","LS","PDM","PDM2","GLS","FC","STR"], "range": ["#0000ff","#008000","#000000","#008000","#0000ff","#00bfbf","#2e8b2e","#bf00bf","#cccc00"]}, "legend": null}
   }},
  {"transform": [{"filter": "datum.s == 'Data' || datum.p == 2"}],
   "mark": {"type": "point", "filled": true, "stroke": "black", "strokeWidth": 0.6, "opacity": 1},
   "encoding": {
    "x": {"field": "x", "type": "quantitative", "scale": {"domain": [0, 0.6], "nice": false, "zero": false}, "axis": {"values": [0,0.1,0.2,0.3,0.4,0.5,0.6], "labelOverlap": false, "format": ".1f", "title": "Median absolute deviation"}},
    "y": {"field": "y", "type": "quantitative", "scale": {"domain": [0, 1], "nice": false}, "axis": {"values": [0,0.2,0.4,0.6,0.8,1.0], "labelOverlap": false, "format": ".1f", "title": "Completeness"}},
    "fill": {"field": "s", "type": "nominal", "scale": {"domain": ["Data","AOVMHW","AOV","CE","LS","PDM","PDM2","GLS","FC","STR"], "range": ["#c0141c","#0000ff","#008000","#000000","#008000","#a9c6d8","#00bfbf","#f5a37f","#bf00bf","#bfbf00"]}, "legend": {"title": null}},
    "shape": {"field": "s", "type": "nominal", "scale": {"domain": ["Data","AOVMHW","AOV","CE","LS","PDM","PDM2","GLS","FC","STR"], "range": ["circle","diamond","diamond","circle","triangle-up","triangle-left","triangle-down","triangle-right","square","M0,-1L0.866,-0.5L0.866,0.5L0,1L-0.866,0.5L-0.866,-0.5Z"]}, "legend": {"title": null}},
    "size": {"field": "s", "type": "nominal", "scale": {"domain": ["Data","AOVMHW","AOV","CE","LS","PDM","PDM2","GLS","FC","STR"], "range": [14,60,60,55,55,55,55,55,55,55]}, "legend": {"title": null}}
   }}
 ]
},
{
 "width": 240, "height": 222,
 "layer": [
  {"transform": [{"filter": "datum.p == 3"}],
   "mark": {"type": "line", "strokeWidth": 1.2},
   "encoding": {
    "x": {"field": "x", "type": "quantitative", "scale": {"domain": [0, 0.6], "nice": false, "zero": false}, "axis": {"values": [0,0.1,0.2,0.3,0.4,0.5,0.6], "labelOverlap": false, "format": ".1f", "title": "Median absolute deviation"}},
    "y": {"field": "y", "type": "quantitative", "scale": {"domain": [0, 1], "nice": false}, "axis": {"values": [0,0.2,0.4,0.6,0.8,1.0], "labelOverlap": false, "format": ".1f", "title": "Completeness"}},
    "stroke": {"field": "s", "type": "nominal", "scale": {"domain": ["AOVMHW","AOV","CE","LS","PDM","PDM2","GLS","FC","STR"], "range": ["#0000ff","#008000","#000000","#008000","#0000ff","#00bfbf","#2e8b2e","#bf00bf","#cccc00"]}, "legend": null}
   }},
  {"transform": [{"filter": "datum.s == 'Data' || datum.p == 3"}],
   "mark": {"type": "point", "filled": true, "stroke": "black", "strokeWidth": 0.6, "opacity": 1},
   "encoding": {
    "x": {"field": "x", "type": "quantitative", "scale": {"domain": [0, 0.6], "nice": false, "zero": false}, "axis": {"values": [0,0.1,0.2,0.3,0.4,0.5,0.6], "labelOverlap": false, "format": ".1f", "title": "Median absolute deviation"}},
    "y": {"field": "y", "type": "quantitative", "scale": {"domain": [0, 1], "nice": false}, "axis": {"values": [0,0.2,0.4,0.6,0.8,1.0], "labelOverlap": false, "format": ".1f", "title": "Completeness"}},
    "fill": {"field": "s", "type": "nominal", "scale": {"domain": ["Data","AOVMHW","AOV","CE","LS","PDM","PDM2","GLS","FC","STR"], "range": ["#c0141c","#0000ff","#008000","#000000","#008000","#a9c6d8","#00bfbf","#f5a37f","#bf00bf","#bfbf00"]}, "legend": {"title": null}},
    "shape": {"field": "s", "type": "nominal", "scale": {"domain": ["Data","AOVMHW","AOV","CE","LS","PDM","PDM2","GLS","FC","STR"], "range": ["circle","diamond","diamond","circle","triangle-up","triangle-left","triangle-down","triangle-right","square","M0,-1L0.866,-0.5L0.866,0.5L0,1L-0.866,0.5L-0.866,-0.5Z"]}, "legend": {"title": null}},
    "size": {"field": "s", "type": "nominal", "scale": {"domain": ["Data","AOVMHW","AOV","CE","LS","PDM","PDM2","GLS","FC","STR"], "range": [14,60,60,55,55,55,55,55,55,55]}, "legend": {"title": null}}
   }}
 ]
}
],
"config": {
 "font": "DejaVu Sans",
 "view": {"stroke": "black", "strokeWidth": 1},
 "axis": {"grid": true, "gridColor": "#888888", "gridDash": [1, 2], "gridWidth": 0.8, "domain": false, "ticks": false, "labelFont": "DejaVu Sans", "labelFontSize": 10.5, "labelColor": "black", "labelPadding": 3, "labelFlush": false, "labelOverlap": false, "labelBound": false, "titleFont": "DejaVu Sans", "titleFontSize": 12, "titleFontWeight": "normal", "titleColor": "black"},
 "axisX": {"titlePadding": 3},
 "axisY": {"titlePadding": 3},
 "legend": {"orient": "right", "offset": 3, "padding": 5, "strokeColor": "#444444", "fillColor": "white", "labelFont": "DejaVu Sans", "labelFontSize": 8, "labelColor": "black", "rowPadding": 2.5, "symbolStrokeColor": "black", "symbolStrokeWidth": 0.6, "labelOffset": 8}
}
}
